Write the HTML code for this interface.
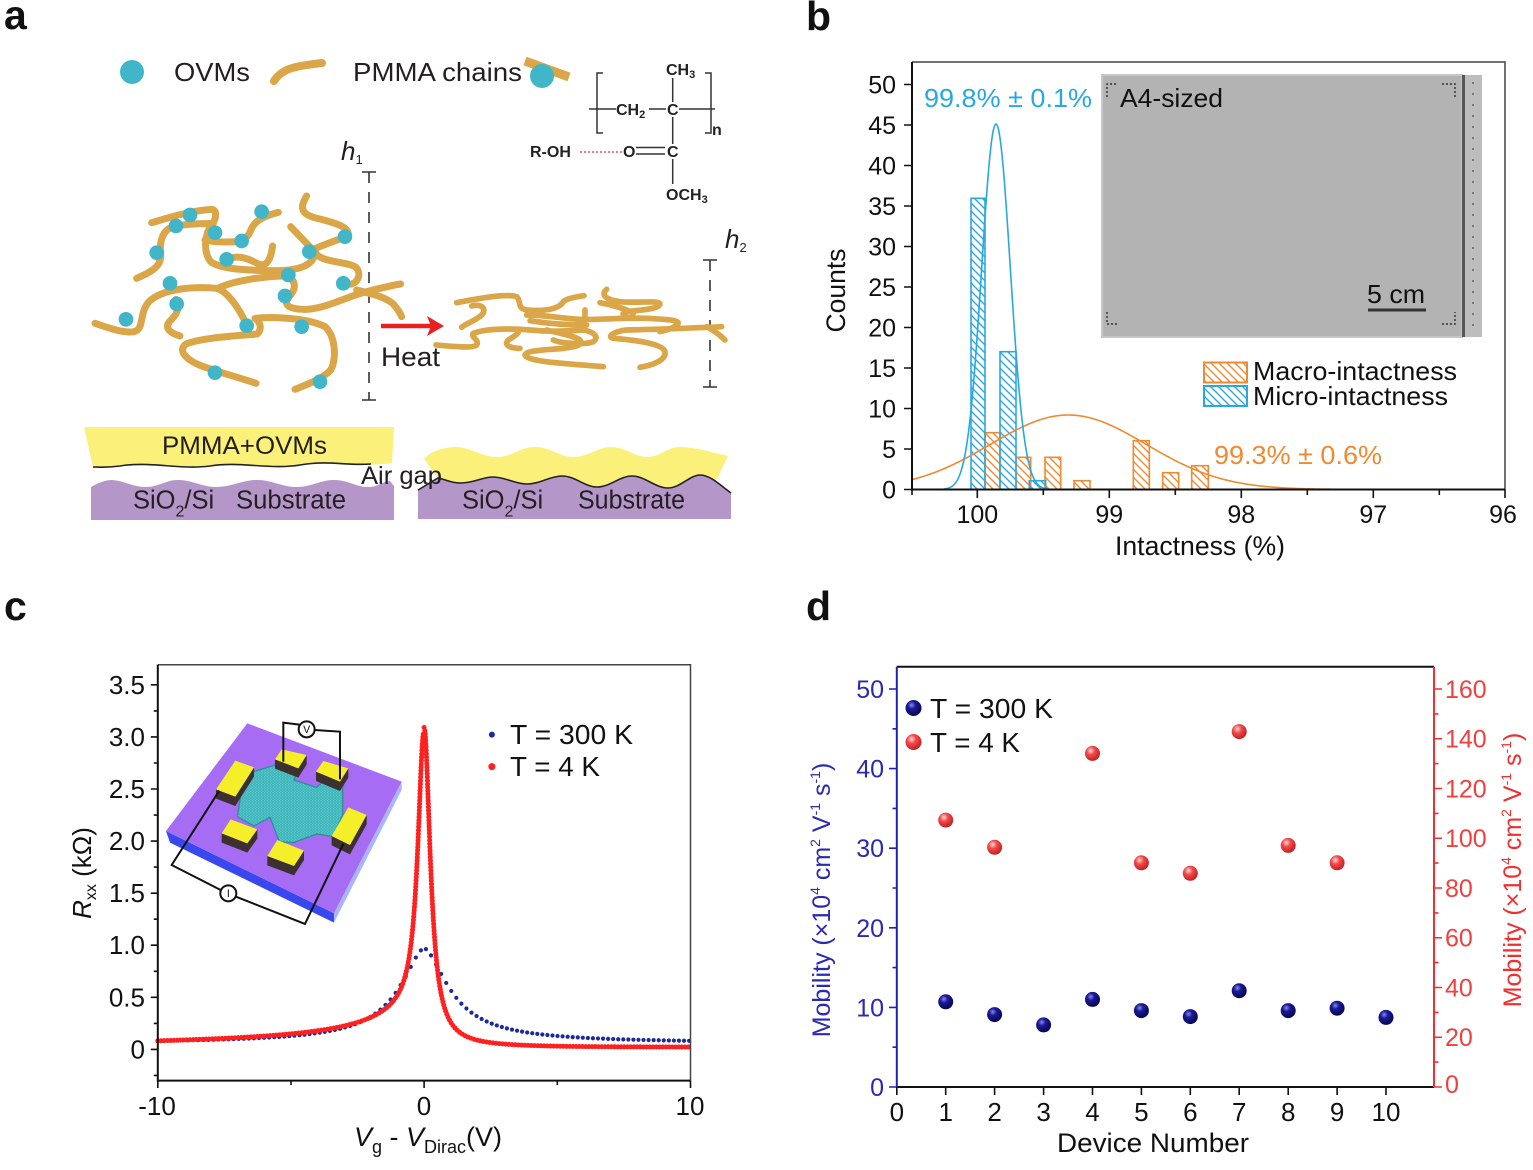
<!DOCTYPE html>
<html><head><meta charset="utf-8">
<style>
html,body{margin:0;padding:0;background:#fff;}
svg{display:block;font-family:"Liberation Sans",Arial,sans-serif;}
</style></head><body>
<svg id="s" width="1533" height="1170" viewBox="0 0 1533 1170" xmlns="http://www.w3.org/2000/svg">
<defs>
<pattern id="hatO" patternUnits="userSpaceOnUse" width="8" height="8"><path d="M-2,-2 L10,10 M-6,2 L2,10 M2,-6 L10,2" stroke="#f08a30" stroke-width="1.4"/></pattern>
<pattern id="hatB" patternUnits="userSpaceOnUse" width="8" height="8"><path d="M-2,-2 L10,10 M-6,2 L2,10 M2,-6 L10,2" stroke="#29a8e0" stroke-width="1.4"/></pattern>
<pattern id="hex" patternUnits="userSpaceOnUse" width="9" height="8"><rect width="9" height="8" fill="#3fb6bb"/><circle cx="2.5" cy="2" r="1.4" fill="#7fd8d8"/><circle cx="7" cy="6" r="1.4" fill="#7fd8d8"/></pattern>
<radialGradient id="gb" cx="0.38" cy="0.32" r="0.7"><stop offset="0" stop-color="#8a8ae8"/><stop offset="0.35" stop-color="#1a1a9a"/><stop offset="1" stop-color="#06064a"/></radialGradient>
<radialGradient id="gr" cx="0.38" cy="0.32" r="0.7"><stop offset="0" stop-color="#ffd8d8"/><stop offset="0.4" stop-color="#f24848"/><stop offset="1" stop-color="#c02020"/></radialGradient>
</defs>
<rect width="1533" height="1170" fill="#fff"/>

<!-- panel letters -->
<g font-size="41" font-weight="bold" fill="#111">
<text x="4" y="29">a</text>
<text x="806" y="30">b</text>
<text x="4" y="620">c</text>
<text x="806" y="620">d</text>
</g>

<!-- ================= PANEL A ================= -->
<g fill="#231f20" font-size="26">
<circle cx="132" cy="72" r="12" fill="#41b6c8"/>
<text x="174" y="81" textLength="76" lengthAdjust="spacingAndGlyphs">OVMs</text>
<path d="M274,81 C282,68 296,66 322,63" stroke="#dba648" stroke-width="8" fill="none" stroke-linecap="round"/>
<text x="353" y="81" textLength="169" lengthAdjust="spacingAndGlyphs">PMMA chains</text>
<path d="M525,61 L569,77" stroke="#dba648" stroke-width="9" fill="none"/>
<circle cx="542" cy="76" r="12" fill="#41b6c8"/>
</g>

<!-- chemical structure -->
<g stroke="#333" stroke-width="1.5" fill="none">
<path d="M603,73 L597,73 L597,133 L603,133"/>
<path d="M705,73 L711,73 L711,133 L705,133"/>
<path d="M589,109 L616,109 M649,109 L666,109 M679,109 L715,109"/>
<path d="M672.7,78 L672.7,102 M672.7,117 L672.7,144 M672.7,159 L672.7,184"/>
<path d="M636,147.5 L665,147.5 M636,154 L665,154"/>
</g>
<path d="M580,152 L622,152" stroke="#f05050" stroke-width="1.5" stroke-dasharray="2,2"/>
<g font-size="16" font-weight="bold" fill="#222">
<text x="666" y="75">CH<tspan font-size="11" dy="3">3</tspan></text>
<text x="616" y="115">CH<tspan font-size="11" dy="3">2</tspan></text>
<text x="667" y="115">C</text>
<text x="712" y="135">n</text>
<text x="530" y="157">R-OH</text>
<text x="623" y="157">O</text>
<text x="667" y="157">C</text>
<text x="666" y="200">OCH<tspan font-size="11" dy="3">3</tspan></text>
</g>

<!-- h1 / h2 -->
<g fill="#231f20">
<text x="341" y="160" font-size="26" font-style="italic">h<tspan font-size="13" dy="4" font-style="normal">1</tspan></text>
<text x="725" y="248" font-size="26" font-style="italic">h<tspan font-size="13" dy="4" font-style="normal">2</tspan></text>
</g>
<g stroke="#333" stroke-width="1.6" fill="none">
<path d="M369,172 L369,400" stroke-dasharray="11,9"/>
<path d="M362,172 L376,172 M362,400 L376,400"/>
<path d="M710,260 L710,387" stroke-dasharray="11,9"/>
<path d="M703,260 L717,260 M703,387 L717,387"/>
</g>

<!-- left polymer blob -->
<g transform="translate(80,180) scale(0.3333)" fill="none" stroke="#dba648" stroke-width="21" stroke-linecap="round" stroke-linejoin="round">
<path d="M215,128 C260,115 330,92 395,88 C412,90 410,115 395,135 C375,160 368,215 392,245 C425,270 520,272 600,272 C660,270 690,255 700,235"/>
<path d="M595,97 C565,105 530,115 515,145 C505,170 495,182 470,185 C440,187 400,186 375,180"/>
<path d="M170,295 C205,280 245,262 242,225 C238,190 245,150 280,140 C320,130 370,132 400,130"/>
<path d="M440,238 C475,222 510,238 535,252 C560,262 572,240 578,198"/>
<path d="M680,48 C660,80 662,100 700,112 C750,125 800,135 805,160"/>
<path d="M690,212 C730,195 770,180 800,170"/>
<path d="M632,140 C665,175 695,205 712,225 C735,248 805,245 828,262 C848,285 830,318 800,312"/>
<path d="M45,430 C90,445 130,460 162,455 C195,448 175,395 210,362 C250,328 330,318 410,325 C445,335 480,390 500,435"/>
<path d="M420,322 C470,300 560,288 620,288 C650,300 650,330 625,352 C610,375 625,388 680,388 C740,385 800,350 860,335 C900,325 940,315 962,312"/>
<path d="M300,468 C265,458 250,440 275,418 C295,398 300,375 288,358"/>
<path d="M528,610 C470,590 420,578 385,565 C320,545 290,512 318,492 C370,472 470,468 532,462 C548,445 540,425 525,415 C570,410 680,412 735,440 C768,470 770,540 752,570 C730,595 690,610 645,628"/>
<path d="M830,330 C870,340 915,350 940,372 C955,390 962,402 965,410"/>
</g>
<g transform="translate(80,180) scale(0.3333)" fill="#41b6c8">
<circle cx="330" cy="105" r="22"/><circle cx="288" cy="138" r="22"/><circle cx="405" cy="158" r="22"/>
<circle cx="545" cy="95" r="22"/><circle cx="485" cy="183" r="22"/><circle cx="230" cy="218" r="22"/>
<circle cx="440" cy="238" r="22"/><circle cx="688" cy="215" r="22"/><circle cx="795" cy="170" r="22"/>
<circle cx="625" cy="285" r="22"/><circle cx="790" cy="310" r="22"/><circle cx="270" cy="310" r="22"/>
<circle cx="615" cy="348" r="22"/><circle cx="290" cy="372" r="22"/><circle cx="138" cy="418" r="22"/>
<circle cx="500" cy="437" r="22"/><circle cx="665" cy="440" r="22"/><circle cx="405" cy="578" r="22"/>
<circle cx="720" cy="605" r="22"/>
</g>

<!-- right polymer blob -->
<g transform="translate(420,230) scale(0.3333)" fill="none" stroke="#dba648" stroke-width="17" stroke-linecap="round" stroke-linejoin="round">
<path d="M110,218 C180,205 260,190 290,200 C305,215 290,235 320,240 C380,245 420,235 430,215 C440,205 470,200 492,197"/>
<path d="M155,228 C190,220 200,240 185,255 C170,270 130,285 125,292"/>
<path d="M320,255 C380,255 420,265 480,268 C540,270 620,262 680,265 C740,268 790,270 770,285 C760,295 740,300 720,305"/>
<path d="M560,178 C540,195 560,210 600,215 C650,220 720,210 720,222 C715,240 650,240 620,245 C600,250 610,262 640,265"/>
<path d="M540,218 C580,225 620,238 640,250"/>
<path d="M48,345 C100,350 160,355 170,345 C180,330 150,320 160,310 C200,295 260,295 330,300 C380,305 420,305 490,300"/>
<path d="M300,355 C270,355 250,345 265,330 C280,320 300,310 295,300"/>
<path d="M380,300 C420,310 470,320 480,330 C490,345 470,350 430,355 C380,360 320,360 315,375 C320,395 430,400 550,410"/>
<path d="M660,412 C700,405 740,390 735,365 C730,340 640,330 580,325 C560,320 580,305 620,300 C700,298 800,295 905,290"/>
<path d="M860,290 C880,300 900,315 915,330"/>
<path d="M490,300 C520,305 540,320 520,335 C500,345 420,340 400,330"/>
<path d="M330,272 C380,280 430,285 500,285"/>
<path d="M495,240 L495,262"/>
</g>

<!-- arrow + heat -->
<path d="M381,326 L431,326" stroke="#e82020" stroke-width="4.5"/>
<polygon points="427,316 444,326 427,336 431,326" fill="#e82020"/>
<text x="381" y="366" font-size="27" fill="#231f20" textLength="59" lengthAdjust="spacingAndGlyphs">Heat</text>

<!-- substrates left -->
<path d="M84,427 L394,427 L392,463 C360,468 330,460 300,465 C270,470 240,461 210,466 C180,470 150,461 120,466 C105,468 98,467 93,467 Z" fill="#faf07a"/>
<path d="M93,467 C98,467 105,468 120,466 C150,461 180,470 210,466 C240,461 270,470 300,465 C330,460 345,466 371,464" stroke="#222" stroke-width="1.6" fill="none"/>
<path d="M91,520 L91,487 C98,483 105,480 112,480 C125,481 133,487 145,487 C160,487 165,480 178,480 C192,480 202,487 216,487 C232,487 242,480 257,480 C272,480 282,487 296,487 C312,487 320,480 334,480 C348,480 356,487 368,487 C378,487 384,481 390,481 L394,486 L394,520 Z" fill="#b596c8"/>
<text x="162" y="454" font-size="25" fill="#231f20" textLength="165" lengthAdjust="spacingAndGlyphs">PMMA+OVMs</text>
<text x="133" y="508.5" font-size="25.5" fill="#231f20">SiO<tspan font-size="16" dy="8">2</tspan><tspan dy="-8">/Si</tspan></text>
<text x="236" y="508.5" font-size="25.5" fill="#231f20" textLength="110" lengthAdjust="spacingAndGlyphs">Substrate</text>

<!-- substrates right -->
<path d="M424,459 C430,452 440,448 455,447 C470,447 482,457 497,457 C512,457 520,447 535,447 C550,447 560,457 573,457 C588,457 598,447 611,447 C625,447 635,457 647,457 C660,457 668,447 679,447 C695,447 710,452 728,456 L715,483 C710,480 705,475 700,475 C690,475 680,488 668,488 C655,488 645,476 632,476 C620,476 610,487 597,487 C585,487 575,476 562,476 C550,476 540,484 527,484 C515,484 505,477 493,477 C482,477 475,483 460,483 C450,483 445,479 438,478 Z" fill="#faf07a"/>
<path d="M418,519 L418,490 L438,478 C445,479 450,483 460,483 C475,483 482,477 493,477 C505,477 515,484 527,484 C540,484 550,476 562,476 C575,476 585,487 597,487 C610,487 620,476 632,476 C645,476 655,488 668,488 C680,488 690,475 700,475 C710,475 720,485 731,493 L731,519 Z" fill="#b596c8"/>
<path d="M418,490 L438,478 C445,479 450,483 460,483 C475,483 482,477 493,477 C505,477 515,484 527,484 C540,484 550,476 562,476 C575,476 585,487 597,487 C610,487 620,476 632,476 C645,476 655,488 668,488 C680,488 690,475 700,475 C710,475 720,485 731,493" stroke="#222" stroke-width="1.6" fill="none"/>
<text x="462" y="508.5" font-size="25.5" fill="#231f20">SiO<tspan font-size="16" dy="8">2</tspan><tspan dy="-8">/Si</tspan></text>
<text x="578" y="508.5" font-size="25.5" fill="#231f20" textLength="107" lengthAdjust="spacingAndGlyphs">Substrate</text>
<text x="361" y="484" font-size="25" fill="#231f20" textLength="81" lengthAdjust="spacingAndGlyphs">Air gap</text>

<!-- ================= PANEL B ================= -->
<!-- inset image -->
<rect x="1102" y="75" width="360" height="262" fill="#b3b3b3" stroke="#c6c6c6" stroke-width="2"/>
<rect x="1462" y="75" width="20" height="262" fill="#bdbdbd"/>
<rect x="1462" y="75" width="3" height="262" fill="#555"/>
<path d="M1473,82 L1473,332" stroke="#777" stroke-width="2" stroke-dasharray="2,9"/>
<g stroke="#333" stroke-width="1.4" fill="none" stroke-dasharray="2,2">
<path d="M1107,97 L1107,84 L1117,84"/>
<path d="M1442,84 L1455,84 L1455,97"/>
<path d="M1107,312 L1107,324 L1119,324"/>
<path d="M1442,324 L1455,324 L1455,312"/>
</g>
<text x="1120" y="107" font-size="26" fill="#111" textLength="103" lengthAdjust="spacingAndGlyphs">A4-sized</text>
<text x="1367" y="303" font-size="26" fill="#111" textLength="58" lengthAdjust="spacingAndGlyphs">5 cm</text>
<rect x="1368" y="308.5" width="58" height="3" fill="#333"/>

<!-- bars -->
<g stroke="#f08a30" stroke-width="1.6" fill="url(#hatO)">
<rect x="985" y="432.7" width="15" height="56.8"/>
<rect x="1016" y="457.3" width="14.7" height="32.2"/>
<rect x="1045" y="457.3" width="15.7" height="32.2"/>
<rect x="1074" y="480.7" width="16" height="8.8"/>
<rect x="1133.3" y="440.7" width="16" height="48.8"/>
<rect x="1162.7" y="472.7" width="16" height="16.8"/>
<rect x="1191.7" y="465.7" width="16.6" height="23.8"/>
</g>
<g stroke="#29a8e0" stroke-width="1.6" fill="url(#hatB)">
<rect x="971" y="198.3" width="14" height="291.2"/>
<rect x="1000" y="351.7" width="16" height="137.8"/>
<rect x="1029.3" y="480.7" width="16.4" height="8.8"/>
</g>
<g id="bcurves"></g>

<!-- frame -->
<path d="M912,62 L1505,62 L1505,489.5" stroke="#444" stroke-width="1.5" fill="none"/>
<path d="M912,62 L912,489.5 L1505,489.5" stroke="#111" stroke-width="2" fill="none"/>
<g stroke="#111" stroke-width="1.6">
<path d="M904,489.5H912 M904,449H912 M904,408.5H912 M904,368H912 M904,327.5H912 M904,287H912 M904,246.5H912 M904,206H912 M904,165.5H912 M904,125H912 M904,84.5H912"/>
<path d="M977.3,489.5V498 M1109.3,489.5V498 M1241.3,489.5V498 M1373.3,489.5V498 M1505,489.5V498"/>
<path d="M912,489.5V495 M1043.3,489.5V495 M1175.3,489.5V495 M1307.3,489.5V495 M1439.3,489.5V495"/>
</g>
<g font-size="25" fill="#111" text-anchor="end">
<text x="896" y="498.5">0</text><text x="896" y="458">5</text><text x="896" y="417.5">10</text>
<text x="896" y="377">15</text><text x="896" y="336.5">20</text><text x="896" y="296">25</text>
<text x="896" y="255.5">30</text><text x="896" y="215">35</text><text x="896" y="174.5">40</text>
<text x="896" y="134">45</text><text x="896" y="93.5">50</text>
</g>
<g font-size="25" fill="#111" text-anchor="middle">
<text x="977.3" y="523">100</text><text x="1109.3" y="523">99</text><text x="1241.3" y="523">98</text>
<text x="1373.3" y="523">97</text><text x="1503" y="523">96</text>
</g>
<text x="1200" y="555" font-size="26.5" fill="#111" text-anchor="middle" textLength="170" lengthAdjust="spacingAndGlyphs">Intactness (%)</text>
<text transform="translate(845,290.5) rotate(-90)" font-size="26.5" fill="#111" text-anchor="middle">Counts</text>
<text x="924" y="107" font-size="26" fill="#29a8e0" textLength="168" lengthAdjust="spacingAndGlyphs">99.8% ± 0.1%</text>
<text x="1214" y="464" font-size="26" fill="#f08a30" textLength="168" lengthAdjust="spacingAndGlyphs">99.3% ± 0.6%</text>
<rect x="1204" y="362.5" width="43" height="20" fill="url(#hatO)" stroke="#f08a30" stroke-width="2"/>
<rect x="1204" y="386" width="43" height="20" fill="url(#hatB)" stroke="#29a8e0" stroke-width="2"/>
<text x="1253" y="380" font-size="26" fill="#111" textLength="204" lengthAdjust="spacingAndGlyphs">Macro-intactness</text>
<text x="1253" y="405" font-size="26" fill="#111" textLength="195" lengthAdjust="spacingAndGlyphs">Micro-intactness</text>

<!-- ================= PANEL C ================= -->
<!-- inset device -->
<g transform="translate(160,700) scale(0.3333)">
<polygon points="18,393 522,640 522,668 30,428" fill="#3848ee"/>
<polygon points="522,640 725,245 725,270 522,668" fill="#a9b6ff"/>
<polygon points="262,70 725,245 522,640 18,393" fill="#a66cf4"/>
<polygon points="240,228 345,195 412,213 402,240 470,262 497,238 548,252 548,345 520,410 470,402 400,428 358,425 330,352 282,378 232,350 240,300" fill="url(#hex)" stroke="#2e8f95" stroke-width="4"/>
<g fill="#3d3030">
<polygon points="168,268 226,290 282,202 282,230 226,318 168,296"/>
<polygon points="345,178 415,205 440,165 440,193 415,233 345,206"/>
<polygon points="468,215 540,245 565,205 565,233 540,273 468,243"/>
<polygon points="515,408 570,435 620,345 620,373 570,463 515,436"/>
<polygon points="185,400 262,430 292,388 292,416 262,458 185,428"/>
<polygon points="322,468 402,498 432,452 432,480 402,526 322,496"/>
</g>
<g fill="#f5ef2a">
<polygon points="168,268 226,182 282,202 226,290"/>
<polygon points="345,178 365,148 440,165 415,205"/>
<polygon points="468,215 490,183 565,205 540,245"/>
<polygon points="515,408 565,322 620,345 570,435"/>
<polygon points="185,400 212,358 292,388 262,430"/>
<polygon points="322,468 352,420 432,452 402,498"/>
</g>
<g stroke="#111" stroke-width="6" fill="none">
<polyline points="370,185 370,68 418,74"/>
<circle cx="440" cy="88" r="24" fill="#fff"/>
<polyline points="463,90 540,95 540,238"/>
<polyline points="178,272 35,495 182,570"/>
<circle cx="205" cy="580" r="24" fill="#fff"/>
<polyline points="228,590 435,672 550,432"/>
</g>
<text x="440" y="99" font-size="32" text-anchor="middle" fill="#111">V</text>
<text x="205" y="591" font-size="32" text-anchor="middle" fill="#111">I</text>
</g>

<g id="cdata"></g>
<path d="M157.8,664.8 L690.5,664.8 L690.5,1080.6" stroke="#444" stroke-width="1.5" fill="none"/>
<path d="M157.8,664.8 L157.8,1080.6 L690.5,1080.6" stroke="#111" stroke-width="2" fill="none"/>
<g stroke="#111" stroke-width="1.6">
<path d="M150.8,1049.4H157.8 M150.8,997.3H157.8 M150.8,945.2H157.8 M150.8,893.2H157.8 M150.8,841.1H157.8 M150.8,789H157.8 M150.8,736.9H157.8 M150.8,684.8H157.8"/>
<path d="M153.8,1075.4H157.8 M153.8,1023.4H157.8 M153.8,971.3H157.8 M153.8,919.2H157.8 M153.8,867.1H157.8 M153.8,815.1H157.8 M153.8,763H157.8 M153.8,710.9H157.8"/>
<path d="M157.8,1080.6V1088 M424.1,1080.6V1088 M690.5,1080.6V1088 M291,1080.6V1085 M557.3,1080.6V1085"/>
</g>
<g font-size="26" fill="#111" text-anchor="end">
<text x="145" y="1058.4">0</text><text x="145" y="1006.3">0.5</text><text x="145" y="954.2">1.0</text>
<text x="145" y="902.2">1.5</text><text x="145" y="850.1">2.0</text><text x="145" y="798">2.5</text>
<text x="145" y="745.9">3.0</text><text x="145" y="693.8">3.5</text>
</g>
<g font-size="26" fill="#111" text-anchor="middle">
<text x="157" y="1115">-10</text><text x="424" y="1115">0</text><text x="690" y="1115">10</text>
</g>
<text transform="translate(91,873) rotate(-90)" font-size="26" fill="#111" text-anchor="middle"><tspan font-style="italic">R</tspan><tspan font-size="16" dy="5">xx</tspan><tspan dy="-5"> (kΩ)</tspan></text>
<text x="428" y="1146" font-size="27" fill="#111" text-anchor="middle"><tspan font-style="italic">V</tspan><tspan font-size="18" dy="7">g</tspan><tspan dy="-7"> - </tspan><tspan font-style="italic">V</tspan><tspan font-size="18" dy="7">Dirac</tspan><tspan dy="-7">(V)</tspan></text>
<circle cx="491.9" cy="734.6" r="3" fill="#1c2a9c"/>
<circle cx="491.9" cy="766.6" r="3.5" fill="#ff2020"/>
<text x="510" y="744" font-size="27.5" fill="#111" textLength="123" lengthAdjust="spacingAndGlyphs">T = 300 K</text>
<text x="510" y="776" font-size="27.5" fill="#111" textLength="90" lengthAdjust="spacingAndGlyphs">T = 4 K</text>

<!-- ================= PANEL D ================= -->
<path d="M896.8,666.7 L1434,666.7 M896.8,1087 L1434,1087" stroke="#111" stroke-width="2"/>
<path d="M896.8,666.7 L896.8,1087" stroke="#2020b0" stroke-width="2"/>
<path d="M1434,666.7 L1434,1087" stroke="#f03030" stroke-width="2"/>
<g stroke="#2020b0" stroke-width="1.6">
<path d="M889,1087H896.8 M889,1007.4H896.8 M889,927.8H896.8 M889,848.2H896.8 M889,768.6H896.8 M889,689H896.8"/>
<path d="M892.5,1047.2H896.8 M892.5,967.6H896.8 M892.5,888H896.8 M892.5,808.4H896.8 M892.5,728.8H896.8"/>
</g>
<g stroke="#f03030" stroke-width="1.6">
<path d="M1434,1087H1442 M1434,1037.25H1442 M1434,987.5H1442 M1434,937.75H1442 M1434,888H1442 M1434,838.25H1442 M1434,788.5H1442 M1434,738.75H1442 M1434,689H1442"/>
<path d="M1434,1062.1H1438.5 M1434,1012.4H1438.5 M1434,962.6H1438.5 M1434,912.9H1438.5 M1434,863.1H1438.5 M1434,813.4H1438.5 M1434,763.6H1438.5 M1434,713.9H1438.5"/>
</g>
<g stroke="#111" stroke-width="1.6">
<path d="M896.8,1087V1095 M945.7,1087V1095 M994.6,1087V1095 M1043.6,1087V1095 M1092.5,1087V1095 M1141.4,1087V1095 M1190.3,1087V1095 M1239.2,1087V1095 M1288.2,1087V1095 M1337.1,1087V1095 M1386,1087V1095"/>
</g>
<g font-size="25" fill="#2a2ab0" text-anchor="end">
<text x="884" y="1096">0</text><text x="884" y="1016.4">10</text><text x="884" y="936.8">20</text>
<text x="884" y="857.2">30</text><text x="884" y="777.6">40</text><text x="884" y="698">50</text>
</g>
<g font-size="25" fill="#f04040" text-anchor="start">
<text x="1445" y="1093">0</text><text x="1445" y="1046">20</text><text x="1445" y="996.5">40</text>
<text x="1445" y="946.7">60</text><text x="1445" y="897">80</text><text x="1445" y="847.2">100</text>
<text x="1445" y="797.5">120</text><text x="1445" y="747.7">140</text><text x="1445" y="698">160</text>
</g>
<g font-size="26" fill="#111" text-anchor="middle">
<text x="896.8" y="1121">0</text><text x="945.7" y="1121">1</text><text x="994.6" y="1121">2</text>
<text x="1043.6" y="1121">3</text><text x="1092.5" y="1121">4</text><text x="1141.4" y="1121">5</text>
<text x="1190.3" y="1121">6</text><text x="1239.2" y="1121">7</text><text x="1288.2" y="1121">8</text>
<text x="1337.1" y="1121">9</text><text x="1386" y="1121">10</text>
</g>
<text x="1153" y="1152" font-size="27" fill="#111" text-anchor="middle" textLength="192" lengthAdjust="spacingAndGlyphs">Device Number</text>
<text transform="translate(830,900) rotate(-90)" font-size="25" fill="#2a2ab0" text-anchor="middle">Mobility (×10<tspan font-size="14" dy="-10">4</tspan><tspan dy="10"> cm</tspan><tspan font-size="14" dy="-10">2</tspan><tspan dy="10"> V</tspan><tspan font-size="14" dy="-10">-1</tspan><tspan dy="10"> s</tspan><tspan font-size="14" dy="-10">-1</tspan><tspan dy="10">)</tspan></text>
<text transform="translate(1521,870) rotate(-90)" font-size="25" fill="#f03030" text-anchor="middle">Mobility (×10<tspan font-size="14" dy="-10">4</tspan><tspan dy="10"> cm</tspan><tspan font-size="14" dy="-10">2</tspan><tspan dy="10"> V</tspan><tspan font-size="14" dy="-10">-1</tspan><tspan dy="10"> s</tspan><tspan font-size="14" dy="-10">-1</tspan><tspan dy="10">)</tspan></text>

<g fill="url(#gr)">
<circle cx="945.7" cy="820.1" r="7.5"/><circle cx="994.6" cy="847.3" r="7.5"/>
<circle cx="1092.5" cy="753.4" r="7.5"/><circle cx="1141.4" cy="862.8" r="7.5"/>
<circle cx="1190.3" cy="873.3" r="7.5"/><circle cx="1239.2" cy="731.6" r="7.5"/>
<circle cx="1288.2" cy="845.4" r="7.5"/><circle cx="1337.1" cy="862.8" r="7.5"/>
<circle cx="913.5" cy="742" r="8"/>
</g>
<g fill="url(#gb)">
<circle cx="945.7" cy="1001.8" r="7.5"/><circle cx="994.6" cy="1014.6" r="7.5"/>
<circle cx="1043.6" cy="1024.9" r="7.5"/><circle cx="1092.5" cy="999.4" r="7.5"/>
<circle cx="1141.4" cy="1010.6" r="7.5"/><circle cx="1190.3" cy="1016.6" r="7.5"/>
<circle cx="1239.2" cy="990.7" r="7.5"/><circle cx="1288.2" cy="1010.6" r="7.5"/>
<circle cx="1337.1" cy="1008.2" r="7.5"/><circle cx="1386" cy="1017.4" r="7.5"/>
<circle cx="913.5" cy="708" r="8"/>
</g>
<text x="930" y="718" font-size="27.5" fill="#111" textLength="123" lengthAdjust="spacingAndGlyphs">T = 300 K</text>
<text x="930" y="752" font-size="27.5" fill="#111" textLength="90" lengthAdjust="spacingAndGlyphs">T = 4 K</text>
</svg>
<script>
(function(){
var NS="http://www.w3.org/2000/svg";
function el(tag,attrs,parent){var e=document.createElementNS(NS,tag);for(var k in attrs)e.setAttribute(k,attrs[k]);parent.appendChild(e);return e;}
var bg=document.getElementById("bcurves");
var d="",x,y;
for(x=912;x<=1505;x+=1){y=489.5-74.5*Math.exp(-Math.pow(x-1068.3,2)/(2*77.8*77.8));d+=(d?"L":"M")+x.toFixed(1)+","+y.toFixed(2);}
el("path",{d:d,fill:"none",stroke:"#f08a30","stroke-width":1.6},bg);
d="";
for(x=944;x<=1048;x+=0.5){y=489.5-365.5*Math.exp(-Math.pow(x-996,2)/(2*14.3*14.3));d+=(d?"L":"M")+x.toFixed(1)+","+y.toFixed(2);}
el("path",{d:d,fill:"none",stroke:"#29a8e0","stroke-width":1.6},bg);

var g=document.getElementById("cdata");
function X(v){return 424.1+26.63*v;}
function Y(r){return 1049.4-104.17*r;}
function blue(v){return 0.06+0.91/(1+Math.pow(Math.abs(v)/1.15,1.7));}
function red(v){var a=Math.abs(v);var r=3.03/(1+(v/0.28)*(v/0.28));if(v<0)r+=0.933/(a+1.667)*(1-Math.exp(-a/0.5));else r+=0.02+0.04*Math.exp(-v/1.5);return r;}
var i,v;
for(i=0;i<=105;i++){v=-10+i*0.19;if(v>10.05)break;el("circle",{cx:X(v).toFixed(2),cy:Y(blue(v)).toFixed(2),r:2.1,fill:"#1c2a9c"},g);}
var px=null,py=null;
for(v=-10;v<=10;v+=0.0005){x=X(v);y=Y(red(v));if(px===null||Math.sqrt((x-px)*(x-px)+(y-py)*(y-py))>=3.2){el("circle",{cx:x.toFixed(2),cy:y.toFixed(2),r:2.5,fill:"#ff2020"},g);px=x;py=y;}}
})();
</script>
</body></html>
